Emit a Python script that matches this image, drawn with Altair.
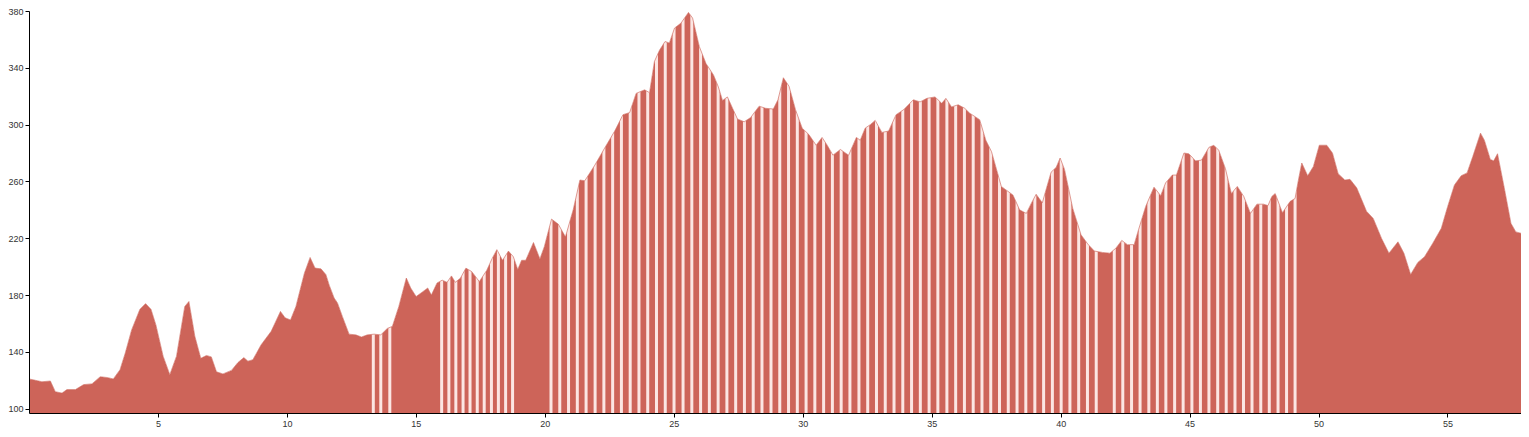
import altair as alt
import pandas as pd

# Elevation profile (distance in km, elevation in m)
km = [0.0, 0.25, 0.5, 0.83, 1.02, 1.28, 1.47, 1.8, 2.12, 2.44, 2.76, 3.02, 3.27, 3.53, 3.73, 3.98,
      4.3, 4.52, 4.73, 4.92, 5.2, 5.46, 5.72, 6.04, 6.2, 6.43, 6.66, 6.88, 7.07, 7.27, 7.52, 7.85,
      8.1, 8.33, 8.49, 8.68, 9.0, 9.39, 9.75, 9.93, 10.14, 10.35, 10.68, 10.9, 11.09, 11.32, 11.51,
      11.64, 11.83, 11.96, 12.15, 12.41, 12.67, 12.89, 13.12, 13.38, 13.64, 13.89, 14.09, 14.34,
      14.63, 14.8, 15.01, 15.24, 15.46, 15.6, 15.82, 16.02, 16.21, 16.38, 16.53, 16.73, 16.94,
      17.17, 17.46, 17.75, 17.95, 18.14, 18.36, 18.59, 18.78, 18.95, 19.1, 19.26, 19.56, 19.81,
      19.98, 20.26, 20.52, 20.8, 21.1, 21.36, 21.55, 21.94, 22.32, 22.71, 23.03, 23.29, 23.54,
      23.87, 24.06, 24.25, 24.45, 24.66, 24.83, 25.03, 25.28, 25.57, 25.73, 25.99, 26.25, 26.54,
      26.73, 26.89, 27.08, 27.28, 27.47, 27.73, 27.98, 28.31, 28.56, 28.86, 29.04, 29.25, 29.47,
      29.72, 29.98, 30.24, 30.52, 30.75, 30.95, 31.17, 31.46, 31.78, 32.08, 32.23, 32.42, 32.62,
      32.81, 33.07, 33.33, 33.62, 33.91, 34.29, 34.55, 34.81, 35.13, 35.39, 35.55, 35.77, 36.03,
      36.28, 36.48, 36.86, 37.1, 37.32, 37.7, 37.96, 38.15, 38.41, 38.67, 38.86, 39.05, 39.29,
      39.63, 39.83, 39.98, 40.15, 40.47, 40.79, 41.05, 41.31, 41.63, 41.91, 42.14, 42.37, 42.59,
      42.85, 43.02, 43.3, 43.62, 43.88, 44.07, 44.33, 44.49, 44.78, 44.97, 45.23, 45.46, 45.75,
      45.94, 46.13, 46.39, 46.62, 46.85, 47.1, 47.36, 47.61, 47.87, 48.04, 48.19, 48.32, 48.6,
      48.9, 49.09, 49.22, 49.35, 49.58, 49.8, 50.03, 50.32, 50.54, 50.76, 51.02, 51.22, 51.48,
      51.86, 52.12, 52.44, 52.73, 53.08, 53.31, 53.57, 53.85, 54.11, 54.43, 54.76, 55.01, 55.27,
      55.53, 55.76, 55.98, 56.28, 56.43, 56.66, 56.79, 56.94, 57.2, 57.46, 57.65, 57.85]
elev = [121, 120, 119, 119.5, 112, 111, 113.5, 113.5, 117, 117.5, 122.5, 122, 121, 127.5, 139, 155.5,
        170, 174, 170, 159, 137, 124, 137, 172, 175.5, 151, 135.5, 137.5, 136.5, 126, 124.5, 127,
        132.5, 136, 133.5, 134.5, 145, 154.5, 168.5, 164, 162.5, 172, 195.5, 206.5, 199, 198.5, 194.5,
        187, 178, 174.5, 165, 152.5, 152, 150.5, 152, 152.5, 152, 156.5, 158, 172,
        192, 185, 179, 182, 185, 180, 188.5, 190.5, 189, 193.5, 189, 192, 199,
        196.5, 189.5, 197.5, 205.5, 212, 204.5, 211, 207, 198, 204.5, 204.5, 217, 205.5,
        214, 233.5, 230, 221, 240, 261, 260.5, 271.5, 283.5, 295.5, 307, 308.5, 322,
        324.5, 322.5, 344.5, 352.5, 358.5, 357.5, 368, 371.5, 379, 375, 355, 343, 335,
        326.5, 317, 319.5, 311.5, 304, 302, 305, 313, 311.5, 311, 317.5, 333, 327,
        310.5, 297.5, 293, 285.5, 291, 285.5, 278.5, 282.5, 278.5, 291, 289, 297.5, 300,
        303, 294.5, 295.5, 307, 310.5, 317.5, 316, 318.5, 319.5, 315, 318.5, 312.5, 314,
        311.5, 308, 303.5, 289, 281, 256.5, 253, 250.5, 240, 237.5, 244.5, 251, 245,
        266.5, 270, 276.5, 268.5, 241, 222.5, 216, 211, 210, 209.5, 213, 218.5, 215.5,
        215.5, 226, 242.5, 256, 250, 259, 264.5, 264.5, 280, 279.5, 274.5, 275, 284,
        285.5, 282, 269, 251.5, 256.5, 249.5, 237.5, 244, 244, 243, 249.5, 251.5, 238,
        246, 248, 261, 273, 264, 270.5, 285.5, 285.5, 280, 265.5, 261, 261.5, 255.5,
        239, 234, 220, 209.5, 217.5, 209.5, 194.5, 203, 207, 216.5, 227, 242.5, 257.5,
        264, 266, 277.5, 294, 289, 275.5, 274.5, 279.5, 255.5, 230.5, 224.5, 223.5]

# Light sampling stripes (distance in km) seen in the sparse stretches
stripe_km = [13.35, 13.64, 13.99,
             16.0, 16.28, 16.55, 16.83, 17.1, 17.38, 17.65, 17.93, 18.2, 18.48, 18.75,
             20.24, 20.58, 20.92, 21.26, 21.60, 21.95, 22.29, 22.63, 22.97, 23.31, 23.65, 23.99,
             24.33, 24.67, 25.01, 25.36, 25.70, 26.04, 26.38, 26.72, 27.06, 27.40, 27.74, 28.08,
             28.42, 28.77, 29.11, 29.45, 29.79, 30.13, 30.47, 30.81, 31.15, 31.49, 31.83, 32.18,
             32.52, 32.86, 33.20, 33.54, 33.88, 34.22, 34.56, 34.90, 35.24, 35.59, 35.93, 36.27,
             36.61, 36.95, 37.29, 37.63, 37.97, 38.31, 38.65, 39.00, 39.34, 39.68, 40.02, 40.36,
             40.70, 41.04, 41.38,
             42.08, 42.41, 42.75, 43.08, 43.42, 43.75, 44.08, 44.42, 44.75, 45.09, 45.42, 45.75,
             46.09, 46.42, 46.76, 47.09, 47.42, 47.76, 48.09, 48.43, 48.76, 49.09]

x_ticks = [5, 10, 15, 20, 25, 30, 35, 40, 45, 50, 55]
y_ticks = [100, 120, 140, 160, 180, 200, 220, 240, 260, 280, 300, 320, 340, 360, 380]
y_min, y_max = 97, 380

W, H = 1492, 402
RED = "#cd6459"
STRIPE = "#fce6e3"

profile = pd.DataFrame({"km": km, "elev": elev})
stripes = pd.DataFrame({"km": stripe_km})

xscale = alt.Scale(domain=[0, 57.85], nice=False, zero=False)
yscale = alt.Scale(domain=[y_min, y_max], nice=False, zero=False)

xaxis = alt.Axis(values=x_ticks, title=None, grid=False, labelFlush=False, zindex=1,
                 labelOverlap=False)
yaxis = alt.Axis(values=y_ticks, title=None, grid=False, labelFlush=False, zindex=1,
                 labelOverlap=False)

area = alt.Chart(profile).mark_area(color=RED).encode(
    x=alt.X("km:Q", scale=xscale, axis=xaxis),
    y=alt.Y("elev:Q", scale=yscale, axis=yaxis),
    y2=alt.datum(y_min),
)

stripe_layer = alt.Chart(stripes).mark_rule(color=STRIPE, strokeWidth=3).encode(
    x=alt.X("km:Q"),
    y=alt.value(0),
    y2=alt.value(H),
)

mask = alt.Chart(profile).mark_area(color="white").encode(
    x=alt.X("km:Q"),
    y=alt.Y("elev:Q"),
    y2=alt.datum(y_max),
)

outline = alt.Chart(profile).mark_line(color=RED, strokeWidth=0.8, opacity=0.8).encode(
    x=alt.X("km:Q"),
    y=alt.Y("elev:Q"),
)

chart = alt.layer(area, stripe_layer, mask, outline).properties(
    width=W, height=H,
    autosize=alt.AutoSizeParams(type="none"),
    padding={"left": 21, "top": 3, "right": 0, "bottom": 22},
).configure_view(stroke=None).configure_axis(
    labelFont="Liberation Sans", labelFontSize=9, labelColor="#333",
    domainColor="#000", tickColor="#000", tickSize=4, labelPadding=2,
    domainWidth=1,
)

chart.save("out.html", embed_options={"renderer": "svg", "actions": False})
